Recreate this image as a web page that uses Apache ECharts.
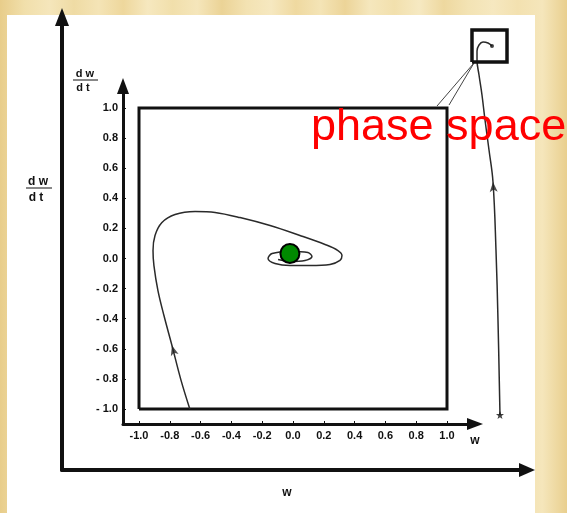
<!DOCTYPE html>
<html>
<head>
<meta charset="utf-8">
<script src="https://cdn.jsdelivr.net/npm/echarts@6/dist/echarts.min.js"></script>
<style>
  html, body { margin: 0; padding: 0; background: #fff; }
  #chart { width: 567px; height: 513px; }
</style>
</head>
<body>
<div id="chart"></div>
<script>
// Tick values of the phase-plane axes
const wTicks = [-1.0, -0.8, -0.6, -0.4, -0.2, 0.0, 0.2, 0.4, 0.6, 0.8, 1.0];
const dwTicks = [-1.0, -0.8, -0.6, -0.4, -0.2, 0.0, 0.2, 0.4, 0.6, 0.8, 1.0];

// Trajectory in the phase plane (w, dw/dt): spirals in towards the fixed point
const orbitW  = [-0.67, -0.727, -0.786, -0.838, -0.877, -0.903, -0.909, -0.896, -0.851, -0.766, -0.636, -0.506, -0.344, -0.149, 0.045, 0.208, 0.292, 0.318, 0.305, 0.240, 0.110, -0.019, -0.117, -0.162, -0.136, -0.019, 0.097, 0.123, 0.078, -0.019, -0.097];
const orbitDW = [-1.0, -0.81, -0.578, -0.379, -0.213, -0.047, 0.053, 0.153, 0.239, 0.292, 0.312, 0.306, 0.272, 0.219, 0.153, 0.093, 0.053, 0.020, -0.013, -0.040, -0.047, -0.047, -0.033, 0.0, 0.033, 0.047, 0.040, 0.013, -0.013, -0.020, -0.007];

// Fixed point of the system
const fixedW  = [-0.02];
const fixedDW = [0.033];

// Direction marker on the phase-plane trajectory
const orbitArrow = { w: -0.786, dw: -0.578, angle: 16 };

// Trajectory on the large (unscaled, 0-100) axes
const farW  = [94.19, 93.76, 93.33, 92.69, 91.83, 90.97, 90.32, 89.68, 89.25, 89.25, 89.68, 90.54, 91.61, 92.47];
const farDW = [12.14, 33.11, 48.57, 63.58, 70.64, 77.26, 82.78, 87.20, 90.51, 92.49, 93.82, 94.48, 94.26, 93.60];
const farArrow = { w: 92.69, dw: 63.58, angle: 4 };

// Zoom box around the hooked end of the far trajectory, and its leader lines
const zoomBoxW  = [88.17, 95.70, 95.70, 88.17, 88.17];
const zoomBoxDW = [90.07, 90.07, 97.13, 97.13, 90.07];
const leaderFrom = [88.60, 89.85];
const leaderTo   = [[80.65, 80.35], [83.23, 80.57]];

// Frame of the phase plane
const frameW  = [-1, -1, 1, 1, -1];
const frameDW = [-1, 1, 1, -1, -1];

const zip = (a, b) => a.map((v, i) => [v, b[i]]);

const streaks = ['#e8cd8a', '#f1dfab', '#f5e6bb', '#efdba4', '#f4e4b6', '#eed79c', '#f6e8bf', '#f1dfab',
  '#f5e6bb', '#ebd396', '#f3e2b2', '#f6e8c0', '#efd9a0', '#f4e4b6', '#ecd498', '#f5e7bd', '#f2e0ad',
  '#f6e9c2', '#eed89f', '#f3e3b4', '#f6e8c0', '#f3e1b0', '#f5e6bb', '#e9cf8e'];

const ink = '#111';
const tickFont = { fontFamily: 'Liberation Sans', fontWeight: 'bold', fontSize: 11, color: ink };

const chart = echarts.init(document.getElementById('chart'), null, { renderer: 'canvas' });

chart.setOption({
  animation: false,
  backgroundColor: 'transparent',
  grid: [
    { left: 62, right: 40, top: 17, bottom: 43 },
    { left: 123, right: 92, top: 86, bottom: 89 }
  ],
  xAxis: [
    {
      gridIndex: 0, type: 'value', min: 0, max: 100,
      axisLine: { show: true, onZero: false, symbol: ['none', 'triangle'], symbolSize: [14, 16],
        lineStyle: { color: ink, width: 4 } },
      axisTick: { show: false }, axisLabel: { show: false }, splitLine: { show: false }
    },
    {
      gridIndex: 1, type: 'value', min: -1.1039, max: 1.1818,
      axisLine: { show: true, onZero: false, symbol: ['none', 'triangle'], symbolSize: [12, 16],
        lineStyle: { color: ink, width: 3 } },
      axisTick: { show: true, inside: true, length: 3, customValues: wTicks, lineStyle: { color: ink, width: 1 } },
      axisLabel: { show: true, customValues: wTicks, margin: 6, ...tickFont,
        formatter: v => (v < -1e-9 ? '-' + Math.abs(v).toFixed(1) : Math.abs(v).toFixed(1)) },
      splitLine: { show: false }
    }
  ],
  yAxis: [
    {
      gridIndex: 0, type: 'value', min: 0, max: 100,
      axisLine: { show: true, onZero: false, symbol: ['none', 'triangle'], symbolSize: [14, 18],
        lineStyle: { color: ink, width: 4 } },
      axisTick: { show: false }, axisLabel: { show: false }, splitLine: { show: false }
    },
    {
      gridIndex: 1, type: 'value', min: -1.0997, max: 1.146,
      axisLine: { show: true, onZero: false, symbol: ['none', 'triangle'], symbolSize: [12, 16],
        lineStyle: { color: ink, width: 3 } },
      axisTick: { show: true, inside: true, length: 3, customValues: dwTicks, lineStyle: { color: ink, width: 1 } },
      axisLabel: { show: true, customValues: dwTicks, margin: 5, ...tickFont,
        formatter: v => (v < -1e-9 ? '- ' + Math.abs(v).toFixed(1) : Math.abs(v).toFixed(1)) },
      splitLine: { show: false }
    }
  ],
  series: [
    {
      name: 'frame', type: 'line', xAxisIndex: 1, yAxisIndex: 1, data: zip(frameW, frameDW),
      symbol: 'none', lineStyle: { color: ink, width: 3, join: 'miter' }, silent: true, z: 2
    },
    {
      name: 'orbit', type: 'line', xAxisIndex: 1, yAxisIndex: 1, data: zip(orbitW, orbitDW),
      smooth: 0.35, symbol: 'none', lineStyle: { color: '#2a2a2a', width: 1.5 }, z: 3
    },
    {
      name: 'orbit arrow', type: 'scatter', xAxisIndex: 1, yAxisIndex: 1,
      data: [[orbitArrow.w, orbitArrow.dw]], symbol: 'arrow', symbolSize: [6, 10],
      symbolRotate: orbitArrow.angle, itemStyle: { color: '#222' }, z: 4
    },
    {
      name: 'fixed point', type: 'scatter', xAxisIndex: 1, yAxisIndex: 1, data: zip(fixedW, fixedDW),
      symbol: 'circle', symbolSize: 19,
      itemStyle: { color: '#008a00', borderColor: '#000', borderWidth: 2, opacity: 1 }, z: 6
    },
    {
      name: 'far trajectory', type: 'line', xAxisIndex: 0, yAxisIndex: 0, data: zip(farW, farDW),
      smooth: 0.4, symbol: 'none', lineStyle: { color: '#2a2a2a', width: 1.5 }, z: 3
    },
    {
      name: 'far arrow', type: 'scatter', xAxisIndex: 0, yAxisIndex: 0,
      data: [[farArrow.w, farArrow.dw]], symbol: 'arrow', symbolSize: [6, 10],
      symbolRotate: farArrow.angle, itemStyle: { color: '#222' }, z: 4
    },
    {
      name: 'far ends', type: 'scatter', xAxisIndex: 0, yAxisIndex: 0,
      data: [
        { value: [farW[0], farDW[0]], symbol: 'path://M0,-10L2.4,-3.2L9.5,-3.1L3.8,1.2L5.9,8.1L0,4L-5.9,8.1L-3.8,1.2L-9.5,-3.1L-2.4,-3.2Z', symbolSize: 8 },
        { value: [farW[farW.length - 1], farDW[farDW.length - 1]], symbol: 'circle', symbolSize: 4 }
      ],
      itemStyle: { color: '#111' }, z: 4
    },
    {
      name: 'zoom box', type: 'line', xAxisIndex: 0, yAxisIndex: 0, data: zip(zoomBoxW, zoomBoxDW),
      symbol: 'none', lineStyle: { color: ink, width: 3.5, join: 'miter' }, z: 3
    },
    {
      name: 'leader lines', type: 'lines', coordinateSystem: 'cartesian2d', xAxisIndex: 0, yAxisIndex: 0,
      data: leaderTo.map(p => ({ coords: [leaderFrom, p] })),
      lineStyle: { color: '#444', width: 1, opacity: 1 }, z: 3
    }
  ],
  graphic: [
    {
      type: 'rect', z: -10, silent: true,
      shape: { x: 0, y: 0, width: 567, height: 513 },
      style: {
        fill: new echarts.graphic.LinearGradient(0, 0, 1, 0,
          streaks.map((c, i) => ({ offset: i / (streaks.length - 1), color: c })))
      }
    },
    { type: 'rect', z: -9, silent: true, shape: { x: 7, y: 15, width: 528, height: 498 }, style: { fill: '#ffffff' } },

    // labels of the large axes
    { type: 'text', z: 20, x: 38, y: 182, style: { text: 'd w', fontFamily: 'Liberation Sans', fontWeight: 'bold', fontSize: 12, fill: ink, align: 'center', verticalAlign: 'middle' } },
    { type: 'line', z: 20, shape: { x1: 26, y1: 188, x2: 52, y2: 188 }, style: { stroke: ink, lineWidth: 1 } },
    { type: 'text', z: 20, x: 36, y: 198, style: { text: 'd t', fontFamily: 'Liberation Sans', fontWeight: 'bold', fontSize: 12, fill: ink, align: 'center', verticalAlign: 'middle' } },
    { type: 'text', z: 20, x: 287, y: 493, style: { text: 'w', fontFamily: 'Liberation Sans', fontWeight: 'bold', fontSize: 12, fill: ink, align: 'center', verticalAlign: 'middle' } },

    // labels of the phase-plane axes
    { type: 'text', z: 20, x: 85, y: 74, style: { text: 'd w', fontFamily: 'Liberation Sans', fontWeight: 'bold', fontSize: 11, fill: ink, align: 'center', verticalAlign: 'middle' } },
    { type: 'line', z: 20, shape: { x1: 73, y1: 80, x2: 98, y2: 80 }, style: { stroke: ink, lineWidth: 1 } },
    { type: 'text', z: 20, x: 83, y: 88, style: { text: 'd t', fontFamily: 'Liberation Sans', fontWeight: 'bold', fontSize: 11, fill: ink, align: 'center', verticalAlign: 'middle' } },
    { type: 'text', z: 20, x: 475, y: 441, style: { text: 'w', fontFamily: 'Liberation Sans', fontWeight: 'bold', fontSize: 12, fill: ink, align: 'center', verticalAlign: 'middle' } },

    // annotation
    { type: 'text', z: 30, x: 311, y: 128, style: { text: 'phase space', fontFamily: 'Liberation Sans', fontSize: 45, fill: '#ff0000', align: 'left', verticalAlign: 'middle' } }
  ]
});
</script>
</body>
</html>
